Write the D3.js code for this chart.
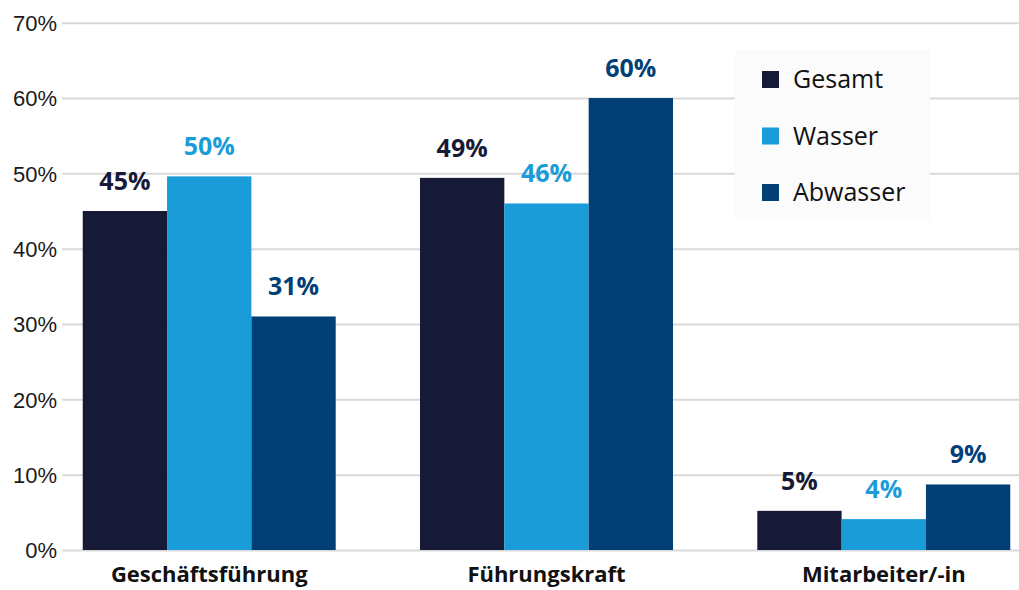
<!DOCTYPE html>
<html>
<head>
<meta charset="utf-8">
<script src="https://cdn.jsdelivr.net/npm/d3@7"></script>
<style>
  html, body { margin: 0; padding: 0; background: #ffffff; }
  svg { display: block; font-family: "Open Sans", "Noto Sans", sans-serif; }
</style>
</head>
<body>
<svg id="chart" width="1019" height="590"></svg>
<script>
// Share of respondents by role, split by sector
const categories = ["Geschäftsführung", "Führungskraft", "Mitarbeiter/-in"];
const seriesNames = ["Gesamt", "Wasser", "Abwasser"];
const gesamt   = [45.0, 49.4, 5.2];
const wasser   = [49.6, 46.0, 4.1];
const abwasser = [31.0, 60.0, 8.7];
const yTicks = [0, 10, 20, 30, 40, 50, 60, 70];
const colors = ["#161a36", "#1a9cd8", "#013f76"];

const seriesValues = [gesamt, wasser, abwasser];
const rows = categories.map((c, i) => ({
  category: c,
  values: seriesNames.map((s, k) => ({ series: s, value: seriesValues[k][i], k }))
}));

const svg = d3.select("#chart");
const width = 1019;

const y = d3.scaleLinear().domain([0, 70]).range([550, 22.7]);
const x0 = d3.scaleBand().domain(categories).range([62, 1031])
  .paddingInner(0.25).paddingOuter(0.0615);
const x1 = d3.scaleBand().domain(seriesNames).range([0, x0.bandwidth()]).padding(0);
const color = d3.scaleOrdinal().domain(seriesNames).range(colors);
const pct = v => d3.format(".0f")(v) + "%";

// Horizontal gridlines with percentage labels
const yAxis = d3.axisLeft(y).tickValues(yTicks).tickFormat(d => d + "%")
  .tickSize(-(width - 62)).tickPadding(5);
const gy = svg.append("g").attr("transform", "translate(62,0)").call(yAxis);
gy.select(".domain").remove();
gy.selectAll(".tick line").attr("stroke", "#d9d9d9").attr("stroke-width", 2);
gy.selectAll(".tick text")
  .attr("fill", "#1a1a1a")
  .style("font-size", "22px")
  .attr("dy", "0.36em");

// Grouped bars
const groups = svg.append("g").selectAll("g")
  .data(rows).join("g")
  .attr("transform", d => `translate(${x0(d.category)},0)`);

groups.selectAll("rect")
  .data(d => d.values).join("rect")
  .attr("x", d => x1(d.series))
  .attr("width", x1.bandwidth())
  .attr("y", d => y(d.value))
  .attr("height", d => y(0) - y(d.value))
  .attr("fill", d => color(d.series));

// Value labels above bars
groups.selectAll("text.value")
  .data(d => d.values).join("text")
  .attr("class", "value")
  .attr("x", d => x1(d.series) + x1.bandwidth() / 2)
  .attr("y", d => y(d.value) - 21)
  .attr("text-anchor", "middle")
  .attr("fill", d => color(d.series))
  .style("font-size", "25px")
  .style("font-weight", "700")
  .text(d => pct(d.value));

// Category labels
const xAxis = d3.axisBottom(x0).tickSize(0).tickPadding(0);
const gx = svg.append("g").attr("transform", "translate(0,550)").call(xAxis);
gx.select(".domain").remove();
gx.selectAll(".tick text")
  .attr("y", 32)
  .attr("dy", 0)
  .attr("fill", "#111111")
  .style("font-size", "22px")
  .style("font-weight", "700")
  .style("font-family", "\"Open Sans\", \"Noto Sans\", sans-serif");

// Legend
const legend = svg.append("g").attr("transform", "translate(735,50)");
legend.append("rect")
  .attr("width", 195).attr("height", 170)
  .attr("fill", "#fbfbfb");
const items = legend.selectAll("g.item")
  .data(seriesNames).join("g")
  .attr("class", "item")
  .attr("transform", (d, i) => `translate(27,${21 + i * 56.5})`);
items.append("rect")
  .attr("width", 17).attr("height", 17)
  .attr("fill", d => color(d));
items.append("text")
  .attr("x", 31)
  .attr("y", 17)
  .attr("fill", "#111111")
  .style("font-size", "25px")
  .text(d => d);
</script>
</body>
</html>
